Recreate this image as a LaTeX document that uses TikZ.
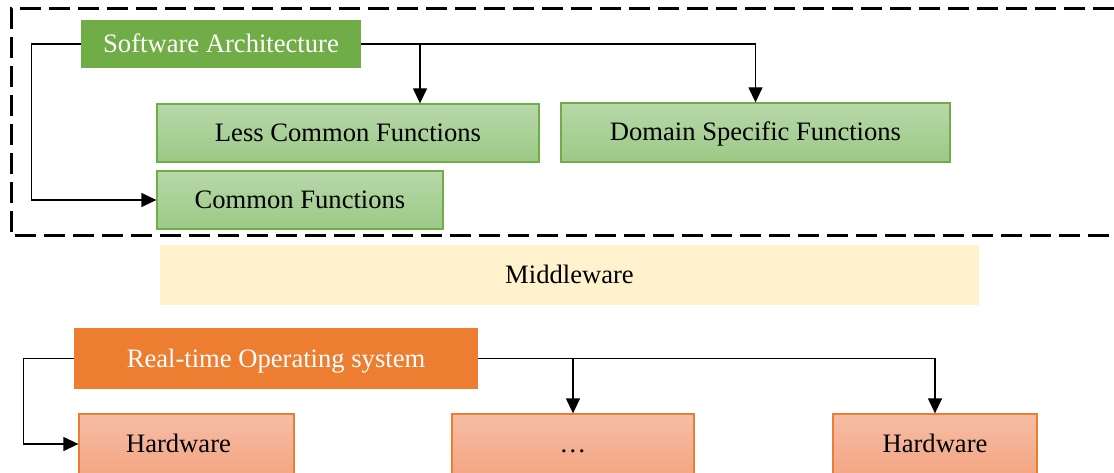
\documentclass[tikz,border=0pt]{standalone}
\usepackage{fontspec}
\setmainfont{Liberation Serif}
\usetikzlibrary{arrows.meta}

\definecolor{swgreen}{HTML}{70AD47}
\definecolor{lgtop}{HTML}{B7D8A9}
\definecolor{lgbot}{HTML}{9CC986}
\definecolor{osorange}{HTML}{ED7D31}
\definecolor{lotop}{HTML}{F5BDA6}
\definecolor{lobot}{HTML}{F4A683}
\definecolor{mwyellow}{HTML}{FFF2CC}

\tikzset{
    every node/.style={font=\fontsize{26.6}{30}\selectfont, inner sep=0pt, text height=20pt, text depth=3pt},
    headbox/.style={fill=#1, text=white},
    funcbox/.style={draw=swgreen, line width=1.3pt, top color=lgtop, bottom color=lgbot},
    hwbox/.style={draw=osorange, line width=1.3pt, top color=lotop, bottom color=lobot},
    link/.style={line width=1.3pt, -{Triangle[length=15pt,width=14pt]}}
}

\begin{document}
\begin{tikzpicture}[x=1pt,y=-1pt]
    \useasboundingbox (0,0) rectangle (1114,473);
    \begin{scope}
	% software layer
	\draw[line width=3pt, dash pattern=on 21pt off 8pt] (1114,9) -- (11,9) -- (11,236) -- (1114,236);
	\node[headbox=swgreen, minimum width=280pt, minimum height=48pt] (sa) at (221,44) {Software Architecture};
	\node[funcbox, minimum width=382pt, minimum height=58pt] (lcf) at (348,133) {Less Common Functions};
	\node[funcbox, minimum width=389pt, minimum height=59pt] (dsf) at (755.5,132.5) {Domain Specific Functions};
	\node[funcbox, minimum width=286pt, minimum height=58pt] (cf) at (300,200) {Common Functions};
	\draw[link] (sa.west) -- ++(-49,0) |- (cf.west);
	\draw[link] (sa.east) -| ([xshift=72pt]lcf.north);
	\draw[link] (sa.east) -| (dsf.north);
    \end{scope}
    \begin{scope}
	\node[fill=mwyellow, minimum width=819pt, minimum height=60pt] (mw) at (569.5,275) {Middleware};
    \end{scope}
    \begin{scope}
	% hardware layer
	\node[headbox=osorange, minimum width=404pt, minimum height=61pt] (rtos) at (276,358.5) {Real-time Operating system};
	\node[hwbox, minimum width=215pt, minimum height=60pt] (hwa) at (186.5,444) {\hspace*{-16pt}Hardware};
	\node[hwbox, minimum width=242pt, minimum height=60pt] (hwdots) at (573,444) {\dots};
	\node[hwbox, minimum width=204pt, minimum height=60pt] (hwb) at (935,444) {Hardware};
	\draw[link] (rtos.west) -- ++(-50,0) |- (hwa.west);
	\draw[link] (rtos.east) -| (hwdots.north);
	\draw[link] (rtos.east) -| (hwb.north);
    \end{scope}
\end{tikzpicture}
\end{document}
